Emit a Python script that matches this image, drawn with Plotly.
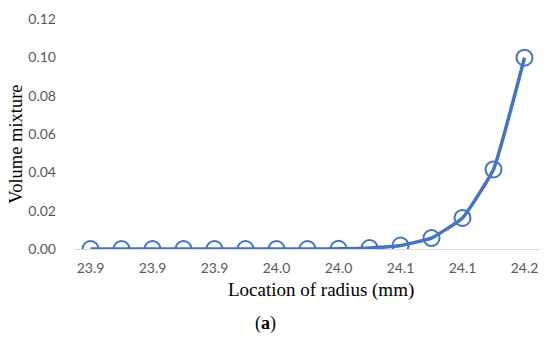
import plotly.graph_objects as go

# Data
point_index = list(range(15))
volume_mixture = [0, 0, 0, 0, 0, 0, 0, 0, 0.0001, 0.0005, 0.0018, 0.0057, 0.0162, 0.0415, 0.0998]
tick_positions = [0, 2, 4, 6, 8, 10, 12, 14]
tick_labels = ["23.9", "23.9", "23.9", "24.0", "24.0", "24.1", "24.1", "24.2"]
y_ticks = [0, 0.02, 0.04, 0.06, 0.08, 0.10, 0.12]

fig = go.Figure()
fig.add_trace(go.Scatter(
    x=point_index, y=volume_mixture, mode="lines+markers",
    line=dict(color="#4472C4", width=3.5, shape="spline", smoothing=0.35),
    marker=dict(symbol="circle-open", size=16, color="#4472C4", line=dict(width=2, color="#4472C4")),
    showlegend=False,
))

fig.update_layout(
    width=550, height=347,
    margin=dict(l=75, r=10, t=15, b=98),
    paper_bgcolor="white", plot_bgcolor="white",
    xaxis=dict(
        range=[-0.5, 14.5], tickmode="array", tickvals=tick_positions, ticktext=tick_labels,
        showgrid=False, zeroline=False, showline=False, ticks="", ticklabelstandoff=9,
        tickfont=dict(family="Lato", size=14, color="#595959"),
    ),
    yaxis=dict(
        range=[0, 0.12], tickmode="array", tickvals=y_ticks, ticktext=[f"{v:.2f}" for v in y_ticks],
        showgrid=False, zeroline=True, zerolinecolor="#D9D9D9", zerolinewidth=1,
        showline=False, ticks="", ticklabelstandoff=18,
        tickfont=dict(family="Lato", size=14, color="#595959"),
    ),
    annotations=[
        dict(text="Location of radius (mm)", xref="paper", yref="paper", x=0.529, y=-0.18,
             showarrow=False, font=dict(family="Liberation Serif", size=19, color="black"),
             xanchor="center", yanchor="middle"),
        dict(text="Volume mixture", xref="paper", yref="paper", x=-0.127, y=0.457, textangle=-90,
             showarrow=False, font=dict(family="Liberation Serif", size=18.5, color="black"),
             xanchor="center", yanchor="middle"),
        dict(text="(<b>a</b>)", xref="paper", yref="paper", x=0.409, y=-0.325,
             showarrow=False, font=dict(family="Liberation Serif", size=18, color="black"),
             xanchor="center", yanchor="middle"),
    ],
)

fig.write_html("out.html", config={"displayModeBar": False},
               post_script="document.body.style.margin='0';document.body.style.overflow='hidden';")
